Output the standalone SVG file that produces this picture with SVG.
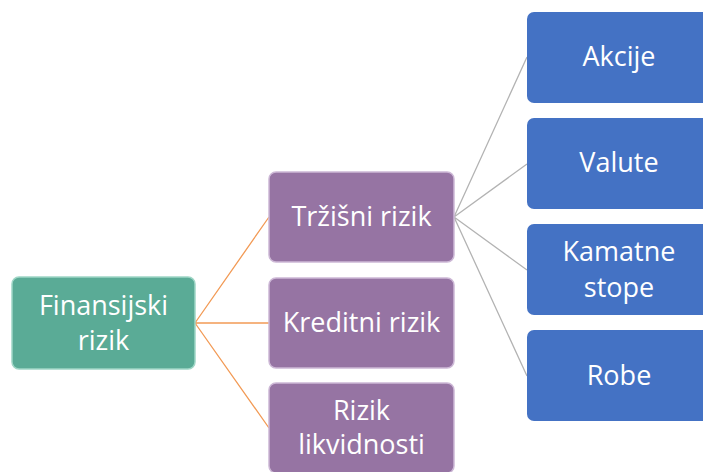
<svg xmlns="http://www.w3.org/2000/svg" width="703" height="472" viewBox="0 0 703 472">
<style>
text{font-family:"Open Sans","Noto Sans","DejaVu Sans",sans-serif;font-size:27px;fill:#ffffff;text-anchor:middle}
.green{fill:#5aab96;stroke:#9fd6c6;stroke-width:1.5}
.purple{fill:#9674a3;stroke:#cdb8d6;stroke-width:1.5}
.blue{fill:#4472c4}
.lo{stroke:#f29a55;stroke-width:1.3;fill:none}
.lg{stroke:#b3b3b3;stroke-width:1.3;fill:none}
</style>
<g id="connectors">
<path class="lo" d="M195,323 L269,217 M195,323 L269,323 M195,323 L269,428"/>
<path class="lg" d="M454,217 L527,57 M454,217 L527,164 M454,217 L527,270 M454,217 L527,376"/>
</g>
<g id="n-finansijski">
<rect class="green" x="12" y="277" width="183" height="92" rx="7"/>
<text x="103.5" y="315">Finansijski</text>
<text x="103.5" y="350">rizik</text>
</g>
<g id="n-trzisni">
<rect class="purple" x="269" y="172" width="185" height="90" rx="7"/>
<text x="361.5" y="226">Tržišni rizik</text>
</g>
<g id="n-kreditni">
<rect class="purple" x="269" y="278" width="185" height="90" rx="7"/>
<text x="361.5" y="332">Kreditni rizik</text>
</g>
<g id="n-likvidnost">
<rect class="purple" x="269" y="383" width="185" height="90" rx="7"/>
<text x="361.5" y="420">Rizik</text>
<text x="361.5" y="454">likvidnosti</text>
</g>
<g id="n-akcije">
<rect class="blue" x="527" y="12" width="184" height="91" rx="7"/>
<text x="619" y="66">Akcije</text>
</g>
<g id="n-valute">
<rect class="blue" x="527" y="118" width="184" height="91" rx="7"/>
<text x="619" y="172">Valute</text>
</g>
<g id="n-kamatne">
<rect class="blue" x="527" y="224" width="184" height="91" rx="7"/>
<text x="619" y="261">Kamatne</text>
<text x="619" y="297">stope</text>
</g>
<g id="n-robe">
<rect class="blue" x="527" y="330" width="184" height="91" rx="7"/>
<text x="619" y="385">Robe</text>
</g>
</svg>
